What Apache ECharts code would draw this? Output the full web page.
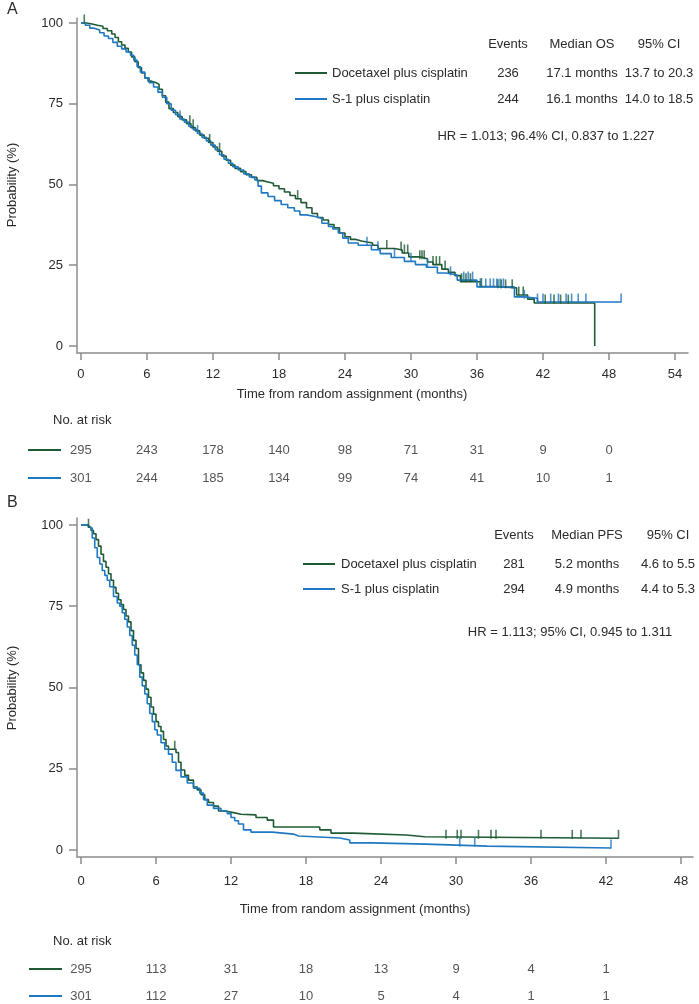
<!DOCTYPE html>
<html><head><meta charset="utf-8">
<script src="https://cdn.jsdelivr.net/npm/echarts@6/dist/echarts.min.js"></script>
<style>html,body{margin:0;padding:0;background:#fff}#c{width:699px;height:1004px}</style>
</head><body><div id="c"></div>
<script>
// ---------- data ----------
const osTicksX = [0, 6, 12, 18, 24, 30, 36, 42, 48, 54];
const pfsTicksX = [0, 6, 12, 18, 24, 30, 36, 42, 48];
const yTicks = [0, 25, 50, 75, 100];

const osDoc = [[0,100],[0.5,99.7],[1.0,99.3],[1.5,99.0],[2.0,98.3],[2.4,97.6],[2.8,96.6],[3.1,95.5],[3.4,94.2],[3.7,93.2],[4.0,92.2],[4.3,91.0],[4.6,89.5],[4.9,88.0],[5.2,86.2],[5.5,84.5],[5.8,83.0],[6.1,82.0],[6.4,81.6],[6.8,81.0],[7.1,79.5],[7.4,77.5],[7.7,75.5],[8.0,73.5],[8.4,72.3],[8.8,71.0],[9.2,70.0],[9.6,68.8],[10.0,67.6],[10.4,66.6],[10.8,65.3],[11.2,64.3],[11.6,63.0],[12.0,61.6],[12.4,60.3],[12.8,58.8],[13.2,57.5],[13.6,56.0],[14.0,55.0],[14.5,54.0],[15.0,53.0],[15.5,52.2],[16.0,51.2],[16.5,50.8],[17.0,50.4],[17.5,49.6],[18.0,48.7],[18.5,47.7],[19.0,46.6],[19.5,45.6],[20.0,44.4],[20.5,42.8],[21.0,41.0],[21.5,39.8],[22.0,39.0],[22.5,37.6],[23.0,36.6],[23.5,35.0],[24.0,33.8],[24.5,33.0],[25.0,32.5],[25.5,31.9],[26.5,31.2],[27.0,30.2],[28.5,29.7],[29.2,28.8],[29.8,27.6],[30.8,27.0],[31.5,26.0],[32.0,25.2],[32.8,23.8],[33.4,22.8],[34.0,21.8],[34.5,19.9],[36.3,18.4],[37.8,18.0],[39.6,15.8],[40.6,14.5],[41.2,13.3],[46.7,0]];
const osS1 = [[0,100],[0.4,99.3],[0.8,98.4],[1.2,97.8],[1.7,97.0],[2.1,96.0],[2.5,95.2],[2.9,94.0],[3.3,92.8],[3.7,92.0],[4.1,91.0],[4.5,90.0],[4.8,88.5],[5.1,86.5],[5.4,84.8],[5.8,83.0],[6.2,81.5],[6.6,80.2],[7.0,78.6],[7.4,77.0],[7.8,75.0],[8.2,73.0],[8.6,71.6],[9.0,70.3],[9.4,69.3],[9.8,68.0],[10.2,67.0],[10.6,65.8],[11.0,64.6],[11.4,63.5],[11.8,62.2],[12.2,60.8],[12.6,59.2],[13.0,57.8],[13.4,56.6],[13.8,55.5],[14.3,54.5],[14.8,53.3],[15.3,52.3],[15.8,51.4],[16.1,49.5],[16.4,47.4],[17.0,46.3],[17.6,45.0],[18.2,43.8],[18.8,42.8],[19.4,41.8],[19.9,40.6],[20.5,40.0],[21.4,39.5],[21.9,38.0],[22.5,37.0],[22.9,36.2],[23.4,35.0],[23.8,33.4],[24.3,31.9],[25.2,31.2],[26.4,29.8],[27.2,28.6],[28.2,27.4],[29.4,26.2],[30.4,25.2],[31.4,24.4],[32.4,22.6],[33.2,22.0],[34.2,20.4],[36.0,18.3],[39.4,15.2],[40.3,14.8],[41.5,13.6],[49.1,13.6]];
const osDocCens = [0.3, 9.9, 10.2, 11.7, 12.6, 19.7, 27.8, 29.1, 29.4, 29.7, 30.8, 31.0, 31.2, 32.0, 32.3, 32.6, 33.1, 34.6, 35.0, 35.4, 36.4, 37.9, 38.2, 38.6, 39.2, 39.8, 40.2, 42.2, 43.0, 43.6, 44.3];
const osS1Cens = [9.0, 10.6, 26.0, 27.0, 28.5, 30.0, 31.5, 33.6, 34.8, 35.2, 35.6, 36.3, 36.8, 37.2, 37.5, 37.8, 38.1, 38.4, 40.3, 41.5, 42.0, 42.7, 43.4, 44.1, 44.6, 45.2, 45.9, 49.1];

const pfsDoc = [[0,100],[0.6,99.3],[0.8,98.3],[1.0,97.3],[1.2,95.5],[1.4,93.5],[1.6,91.0],[1.8,88.8],[2.0,87.0],[2.2,85.0],[2.4,83.0],[2.6,80.8],[2.8,79.0],[3.0,77.0],[3.2,75.5],[3.4,74.0],[3.6,72.0],[3.8,70.2],[4.0,67.5],[4.2,64.5],[4.4,62.0],[4.6,57.0],[4.8,54.5],[5.0,52.2],[5.2,49.5],[5.4,47.0],[5.6,44.0],[5.8,41.8],[6.0,39.5],[6.2,38.0],[6.4,36.5],[6.6,34.0],[6.8,32.0],[7.0,31.0],[7.6,30.0],[7.8,27.0],[8.0,24.6],[8.3,23.0],[8.6,21.5],[9.0,19.4],[9.3,18.5],[9.6,17.0],[9.9,15.5],[10.2,14.6],[10.6,13.5],[11.0,12.0],[11.5,11.5],[12.2,11.0],[12.8,10.8],[14.0,10.0],[14.9,9.2],[15.4,7.1],[19.1,6.2],[20.0,5.2],[21.8,4.6],[26.0,4.1],[27.5,3.6],[43.0,3.6]];
const pfsS1 = [[0,100],[0.5,99.5],[0.7,99.0],[0.9,96.0],[1.1,93.0],[1.3,90.0],[1.5,88.0],[1.7,86.0],[1.9,84.5],[2.1,83.0],[2.3,81.0],[2.6,78.0],[2.9,76.0],[3.1,75.0],[3.3,73.0],[3.5,71.0],[3.7,68.6],[3.9,66.0],[4.1,63.0],[4.3,60.0],[4.5,57.0],[4.7,53.2],[4.9,50.5],[5.1,48.0],[5.3,45.0],[5.5,42.0],[5.7,39.5],[5.9,37.0],[6.1,35.4],[6.4,33.0],[6.7,31.0],[7.0,29.5],[7.3,27.0],[7.6,24.5],[8.0,22.5],[8.5,20.6],[9.0,19.0],[9.5,17.5],[9.8,15.5],[10.1,13.8],[10.6,12.8],[11.2,12.0],[11.7,11.2],[12.0,10.0],[12.3,9.0],[12.6,8.0],[13.0,6.2],[13.6,5.5],[15.3,4.9],[17.0,4.3],[17.4,3.7],[20.7,3.1],[21.5,2.2],[23.3,1.8],[27.6,1.2],[32.5,0.6],[42.4,0.6]];
const pfsDocCens = [0.6, 7.5, 29.2, 30.1, 30.4, 31.8, 32.8, 33.2, 36.8, 39.3, 40.0, 43.0];
const pfsS1Cens = [30.3, 31.5, 42.4];

const riskTimesOS = [0, 6, 12, 18, 24, 30, 36, 42, 48];
const riskOSDoc = [295, 243, 178, 140, 98, 71, 31, 9, 0];
const riskOSS1 = [301, 244, 185, 134, 99, 74, 41, 10, 1];
const riskTimesPFS = [0, 6, 12, 18, 24, 30, 36, 42];
const riskPFSDoc = [295, 113, 31, 18, 13, 9, 4, 1];
const riskPFSS1 = [301, 112, 27, 10, 5, 4, 1, 1];

const groups = ['Docetaxel plus cisplatin', 'S-1 plus cisplatin'];
const osTable = { head: ['Events', 'Median OS', '95% CI'], rows: [['236', '17.1 months', '13.7 to 20.3'], ['244', '16.1 months', '14.0 to 18.5']], hr: 'HR = 1.013; 96.4% CI, 0.837 to 1.227' };
const pfsTable = { head: ['Events', 'Median PFS', '95% CI'], rows: [['281', '5.2 months', '4.6 to 5.5'], ['294', '4.9 months', '4.4 to 5.3']], hr: 'HR = 1.113; 95% CI, 0.945 to 1.311' };

// ---------- style ----------
const GREEN = '#1f5a35';
const BLUE = '#1f78c2';
const AXIS = '#8c8c8c';
const TXT = '#2b2b2b';
const FONT = '"Liberation Sans", Arial, sans-serif';
const FS = 13;

function survAt(curve, t) {
  let v = curve[0][1];
  for (const p of curve) { if (p[0] <= t) v = p[1]; else break; }
  return v;
}
function censData(curve, times) { return times.map(t => [t, survAt(curve, t)]); }

function plotX(idx, min, max, ticks, margin) {
  return {
    gridIndex: idx, type: 'value', min: min, max: max,
    axisLine: { show: true, onZero: false, lineStyle: { color: AXIS, width: 1.5 } },
    axisTick: { show: true, length: 7, customValues: ticks, lineStyle: { color: AXIS, width: 1.5 } },
    axisLabel: { customValues: ticks, margin: margin, color: TXT, fontSize: FS, fontFamily: FONT },
    splitLine: { show: false }
  };
}
function plotY(idx, min, max) {
  return {
    gridIndex: idx, type: 'value', min: min, max: max,
    axisLine: { show: true, onZero: false, lineStyle: { color: AXIS, width: 1.5 } },
    axisTick: { show: true, length: 8, customValues: yTicks, lineStyle: { color: AXIS, width: 1.5 } },
    axisLabel: { customValues: yTicks, margin: 14, color: TXT, fontSize: FS, fontFamily: FONT },
    splitLine: { show: false }
  };
}
function hiddenX(idx, min, max) { return { gridIndex: idx, type: 'value', min: min, max: max, show: false }; }
function hiddenY(idx) { return { gridIndex: idx, type: 'category', data: groups, inverse: true, boundaryGap: false, show: false }; }

function km(name, data, color, xi) {
  return { type: 'line', name: name, xAxisIndex: xi, yAxisIndex: xi, data: data, step: 'end', showSymbol: false, symbol: 'none', silent: true, lineStyle: { color: color, width: 1.6 }, z: 3 };
}
function cens(data, color, xi) {
  return { type: 'scatter', xAxisIndex: xi, yAxisIndex: xi, data: data, symbol: 'rect', symbolSize: [1.6, 9], symbolOffset: [0, -4], itemStyle: { color: color }, silent: true, z: 4 };
}
function risk(times, vals, grp, xi) {
  return {
    type: 'scatter', xAxisIndex: xi, yAxisIndex: xi, silent: true, symbolSize: 0,
    data: times.map((t, i) => [t, grp, vals[i]]),
    label: { show: true, position: 'inside', formatter: p => String(p.value[2]), color: TXT, fontSize: FS, fontFamily: FONT }
  };
}

function txt(x, y, s, align, size, rot) {
  return { type: 'text', x: x, y: y, rotation: rot || 0, silent: true, style: { text: s, x: 0, y: 0, fill: TXT, font: (size || FS) + 'px ' + FONT, textAlign: align || 'left', textVerticalAlign: 'middle' } };
}
function seg(x1, x2, y, color) {
  return { type: 'line', silent: true, shape: { x1: x1, y1: y, x2: x2, y2: y }, style: { stroke: color, lineWidth: 2 } };
}
function table(tb, lx, tx, cols, yHead, yRows, yHr, hrX) {
  const g = [];
  tb.head.forEach((h, i) => g.push(txt(cols[i], yHead, h, 'center')));
  tb.rows.forEach((r, j) => {
    g.push(seg(lx[0], lx[1], yRows[j], j === 0 ? GREEN : BLUE));
    g.push(txt(tx, yRows[j], groups[j]));
    r.forEach((c, i) => g.push(txt(cols[i], yRows[j], c, 'center')));
  });
  g.push(txt(hrX, yHr, tb.hr, 'center'));
  return g;
}

const A_MIN = -0.36, A_MAX = 55.18, B_MIN = -0.32, B_MAX = 48.96;

const graphic = [].concat(
  [txt(7, 10, 'A', 'left', 16), txt(7, 503, 'B', 'left', 16)],
  [txt(12, 185, 'Probability (%)', 'center', FS, Math.PI / 2), txt(12, 688, 'Probability (%)', 'center', FS, Math.PI / 2)],
  [txt(352, 394, 'Time from random assignment (months)', 'center'), txt(355, 909, 'Time from random assignment (months)', 'center')],
  [txt(53, 420, 'No. at risk'), txt(53, 941, 'No. at risk')],
  [seg(28, 61, 450, GREEN), seg(28, 61, 478, BLUE), seg(29, 62, 969, GREEN), seg(29, 62, 996, BLUE)],
  table(osTable, [295, 327], 332, [508, 582, 659], 44, [73, 99], 136, 546),
  table(pfsTable, [303, 335], 341, [514, 587, 668], 535, [564, 589], 632, 570)
);

const option = {
  animation: false,
  backgroundColor: '#fff',
  grid: [
    { left: 77, top: 18, width: 611, height: 335, outerBoundsMode: 'none' },
    { left: 77, top: 450, width: 611, height: 28, outerBoundsMode: 'none' },
    { left: 77, top: 518, width: 616, height: 339, outerBoundsMode: 'none' },
    { left: 77, top: 969, width: 616, height: 27, outerBoundsMode: 'none' }
  ],
  xAxis: [
    plotX(0, A_MIN, A_MAX, osTicksX, 15),
    hiddenX(1, A_MIN, A_MAX),
    plotX(2, B_MIN, B_MAX, pfsTicksX, 18),
    hiddenX(3, B_MIN, B_MAX)
  ],
  yAxis: [plotY(0, -2.17, 101.55), hiddenY(1), plotY(2, -2.15, 102.15), hiddenY(3)],
  series: [
    km('Docetaxel plus cisplatin', osDoc, GREEN, 0),
    km('S-1 plus cisplatin', osS1, BLUE, 0),
    cens(censData(osDoc, osDocCens), GREEN, 0),
    cens(censData(osS1, osS1Cens), BLUE, 0),
    risk(riskTimesOS, riskOSDoc, groups[0], 1),
    risk(riskTimesOS, riskOSS1, groups[1], 1),
    km('Docetaxel plus cisplatin', pfsDoc, GREEN, 2),
    km('S-1 plus cisplatin', pfsS1, BLUE, 2),
    cens(censData(pfsDoc, pfsDocCens), GREEN, 2),
    cens(censData(pfsS1, pfsS1Cens), BLUE, 2),
    risk(riskTimesPFS, riskPFSDoc, groups[0], 3),
    risk(riskTimesPFS, riskPFSS1, groups[1], 3)
  ],
  graphic: graphic
};
const chart = echarts.init(document.getElementById('c'), null, { renderer: 'canvas' });
chart.setOption(option);
</script></body></html>
